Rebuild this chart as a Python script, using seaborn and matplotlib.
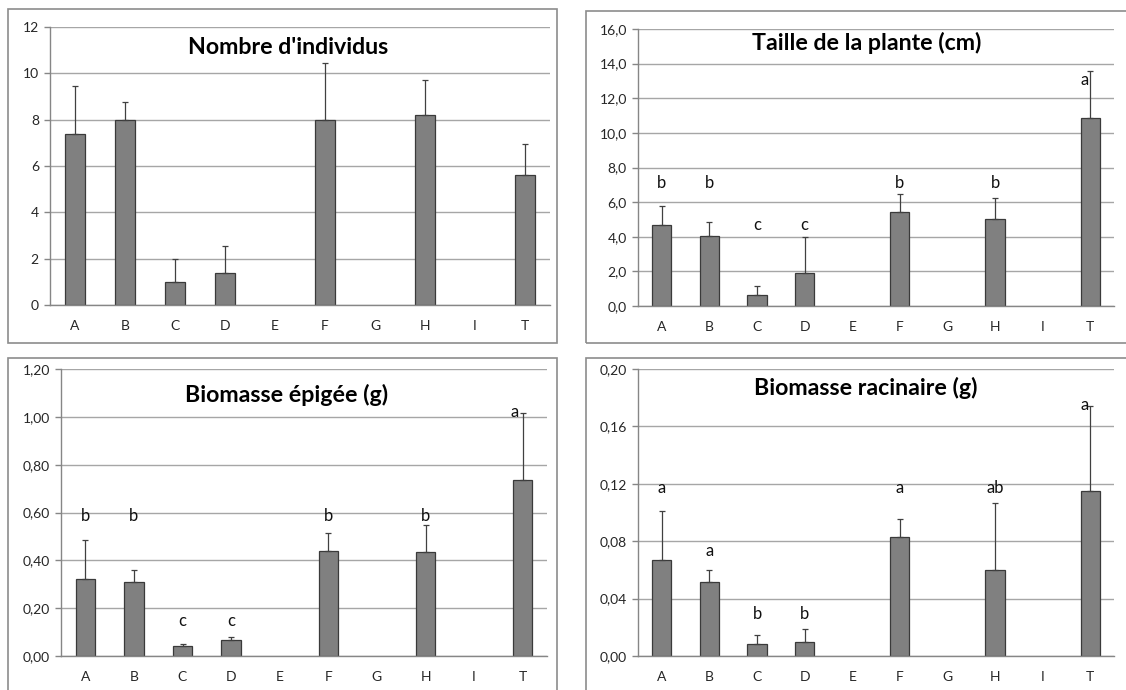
import numpy as np
import pandas as pd
import matplotlib
matplotlib.use("Agg")
import matplotlib.pyplot as plt
import seaborn as sns
from matplotlib.patches import Rectangle
from matplotlib.ticker import FuncFormatter, MultipleLocator

# ---------------- data ----------------
categories = ["A", "B", "C", "D", "E", "F", "G", "H", "I", "T"]

individus = [7.4, 8.0, 1.0, 1.4, 0, 8.0, 0, 8.2, 0, 5.6]
individus_err = [2.05, 0.75, 1.0, 1.15, 0, 2.45, 0, 1.5, 0, 1.35]
individus_letters = ["", "", "", "", "", "", "", "", "", ""]

taille = [4.65, 4.06, 0.64, 1.91, 0, 5.43, 0, 5.0, 0, 10.84]
taille_err = [1.13, 0.79, 0.52, 2.06, 0, 1.04, 0, 1.24, 0, 2.73]
taille_letters = ["b", "b", "c", "c", "", "b", "", "b", "", "a"]
taille_letter_y = [7.1, 7.1, 4.65, 4.65, 0, 7.1, 0, 7.1, 0, 13.05]

epigee = [0.32, 0.308, 0.042, 0.068, 0, 0.438, 0, 0.433, 0, 0.734]
epigee_err = [0.164, 0.052, 0.008, 0.010, 0, 0.078, 0, 0.115, 0, 0.28]
epigee_letters = ["b", "b", "c", "c", "", "b", "", "b", "", "a"]
epigee_letter_y = [0.587, 0.587, 0.148, 0.148, 0, 0.587, 0, 0.587, 0, 1.02]

racinaire = [0.0667, 0.0518, 0.0086, 0.0098, 0, 0.0827, 0, 0.0599, 0, 0.1147]
racinaire_err = [0.034, 0.008, 0.0063, 0.0088, 0, 0.013, 0, 0.0467, 0, 0.0597]
racinaire_letters = ["a", "a", "b", "b", "", "a", "", "ab", "", "a"]
racinaire_letter_y = [0.117, 0.073, 0.0295, 0.0295, 0, 0.117, 0, 0.117, 0, 0.1747]

titles = ["Nombre d'individus", "Taille de la plante (cm)",
          "Biomasse épigée (g)", "Biomasse racinaire (g)"]

# ---------------- style ----------------
sns.set_theme(style="white")
plt.rcParams["font.family"] = ["Lato", "DejaVu Sans"]

W, H = 1126, 690
fig = plt.figure(figsize=(W / 100, H / 100), dpi=100)
fig.patch.set_facecolor("white")

BAR = "#808080"
EDGE = "#3a3a3a"
GRID = "#a6a6a6"
AXIS = "#868686"
TXT = "#262626"


def px_axes(left, top, right, bottom):
    return fig.add_axes([left / W, 1 - bottom / H, (right - left) / W, (bottom - top) / H])


def frame(left, top, right, bottom):
    fig.patches.append(Rectangle((left / W, 1 - bottom / H), (right - left) / W,
                                 (bottom - top) / H, transform=fig.transFigure,
                                 fill=False, edgecolor="#8c8c8c", linewidth=1.2))


def panel(ax, vals, errs, letters, letter_y, ymax, step, fmt, title, title_xy, t_shift):
    df = pd.DataFrame({"cat": categories, "val": vals})
    df_draw = df[df["val"] > 0]
    sns.barplot(data=df_draw, x="cat", y="val", order=categories, color=BAR,
                saturation=1, width=0.4, edgecolor=EDGE, linewidth=0.9,
                errorbar=None, ax=ax)
    pos = [i for i, v in enumerate(vals) if v > 0]
    ax.errorbar(pos, [vals[i] for i in pos],
                yerr=[[0] * len(pos), [errs[i] for i in pos]],
                fmt="none", ecolor="#404040", elinewidth=0.9, capsize=2.5, capthick=0.9)
    for i, (lab, ly) in enumerate(zip(letters, letter_y)):
        if lab:
            dx = t_shift if categories[i] == "T" else 0
            ax.text(i + dx, ly, lab, ha="center", va="center", fontsize=12, color="#111111")
    ax.set_xlim(-0.5, len(categories) - 0.5)
    ax.set_ylim(0, ymax)
    ax.yaxis.set_major_locator(MultipleLocator(step))
    ax.yaxis.set_major_formatter(FuncFormatter(lambda v, p: fmt.format(v).replace(".", ",")))
    ax.grid(axis="y", color=GRID, linewidth=1.0)
    ax.set_axisbelow(True)
    ax.set_xlabel("")
    ax.set_ylabel("")
    for s in ["top", "right"]:
        ax.spines[s].set_visible(False)
    for s in ["left", "bottom"]:
        ax.spines[s].set_color(AXIS)
        ax.spines[s].set_linewidth(1.0)
    ax.set_xticks(range(len(categories)))
    ax.set_xticklabels(categories)
    ax.set_xticks(np.arange(-0.5, len(categories) + 0.5, 1), minor=True)
    ax.tick_params(axis="x", which="major", length=0, pad=11, labelsize=10, labelcolor=TXT)
    ax.tick_params(axis="x", which="minor", length=5, width=1, color=AXIS, direction="out")
    ax.tick_params(axis="y", which="major", length=4, width=1, color=AXIS, direction="out",
                   pad=4, labelsize=10, labelcolor=TXT, left=True)
    ax.text(title_xy[0], title_xy[1], title, transform=ax.transAxes, ha="center",
            va="center", fontsize=16.7, fontweight="bold", color="#000000")


# frames
frame(8, 9, 557, 343)
frame(586, 11, 1135, 343)
frame(8, 358, 557, 700)
frame(586, 358, 1135, 700)

ax1 = px_axes(50, 27, 550, 305)
panel(ax1, individus, individus_err, individus_letters, [0] * 10, 12, 2, "{:.0f}",
      titles[0], (0.476, 0.928), 0)

ax2 = px_axes(638, 29, 1114, 306)
panel(ax2, taille, taille_err, taille_letters, taille_letter_y, 16, 2, "{:.1f}",
      titles[1], (0.481, 0.949), -0.12)

ax3 = px_axes(61, 369, 547, 656)
panel(ax3, epigee, epigee_err, epigee_letters, epigee_letter_y, 1.2, 0.2, "{:.2f}",
      titles[2], (0.465, 0.909), -0.16)

ax4 = px_axes(638, 369, 1114, 656)
panel(ax4, racinaire, racinaire_err, racinaire_letters, racinaire_letter_y, 0.2, 0.04, "{:.2f}",
      titles[3], (0.479, 0.934), -0.12)

fig.savefig("out.png", dpi=100, facecolor="white")
